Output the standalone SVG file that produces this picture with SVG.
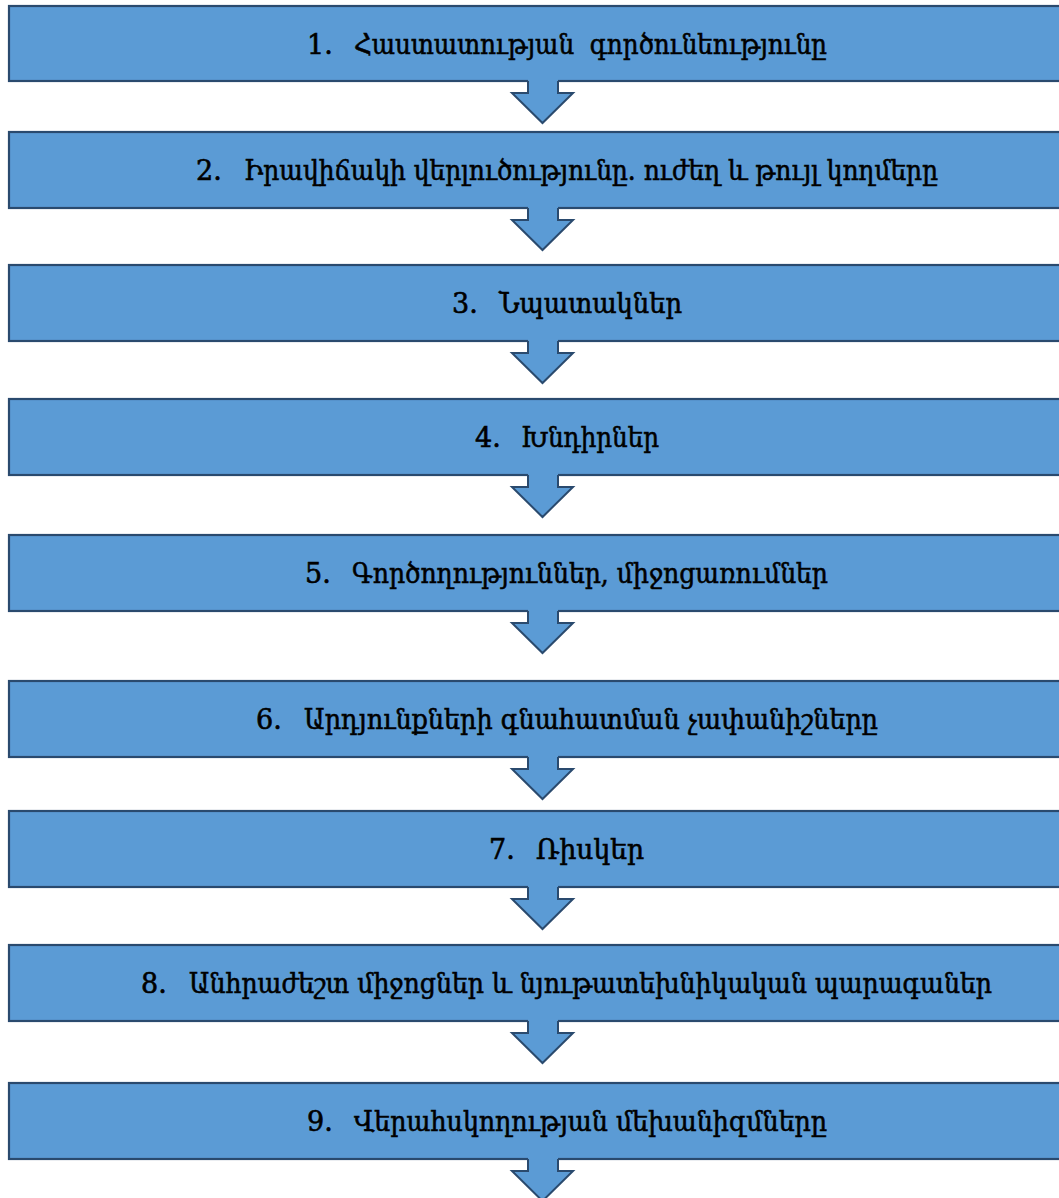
<svg xmlns="http://www.w3.org/2000/svg" width="1059" height="1198" viewBox="0 0 1059 1198">
<style>
.box{fill:#5B9BD5;stroke:#2A4A6E;stroke-width:2.2}
.arr{fill:#5B9BD5}
.arrl{fill:none;stroke:#2A4A6E;stroke-width:2;stroke-linejoin:miter}
.t{font-family:"DejaVu Serif","DejaVu Sans",serif;font-size:27px;fill:#000;stroke:#000;stroke-width:0.6}
</style>
<rect width="1059" height="1198" fill="#fff"/>
<g id="node1"><rect class="box" x="9" y="6" width="1060" height="75"/><text class="t" x="307" y="54">1.</text><text class="t" x="354" y="54" textLength="473" lengthAdjust="spacingAndGlyphs" xml:space="preserve">Հաստատության  գործունեությունը</text></g>
<g id="node2"><rect class="box" x="9" y="132" width="1060" height="76"/><text class="t" x="196" y="180">2.</text><text class="t" x="244" y="180" textLength="694" lengthAdjust="spacingAndGlyphs">Իրավիճակի վերլուծությունը. ուժեղ և թույլ կողմերը</text></g>
<g id="node3"><rect class="box" x="9" y="265" width="1060" height="76"/><text class="t" x="452" y="313">3.</text><text class="t" x="499" y="313" textLength="183" lengthAdjust="spacingAndGlyphs">Նպատակներ</text></g>
<g id="node4"><rect class="box" x="9" y="399" width="1060" height="76"/><text class="t" x="475" y="447">4.</text><text class="t" x="521" y="447" textLength="138" lengthAdjust="spacingAndGlyphs">Խնդիրներ</text></g>
<g id="node5"><rect class="box" x="9" y="535" width="1060" height="76"/><text class="t" x="305" y="583">5.</text><text class="t" x="352" y="583" textLength="476" lengthAdjust="spacingAndGlyphs">Գործողություններ, միջոցառումներ</text></g>
<g id="node6"><rect class="box" x="9" y="681" width="1060" height="76"/><text class="t" x="256" y="729">6.</text><text class="t" x="304" y="729" textLength="574" lengthAdjust="spacingAndGlyphs">Արդյունքների գնահատման չափանիշները</text></g>
<g id="node7"><rect class="box" x="9" y="811" width="1060" height="76"/><text class="t" x="489" y="859">7.</text><text class="t" x="536" y="859" textLength="108" lengthAdjust="spacingAndGlyphs">Ռիսկեր</text></g>
<g id="node8"><rect class="box" x="9" y="945" width="1060" height="76"/><text class="t" x="141" y="993">8.</text><text class="t" x="189" y="993" textLength="803" lengthAdjust="spacingAndGlyphs">Անհրաժեշտ միջոցներ և նյութատեխնիկական պարագաներ</text></g>
<g id="node9"><rect class="box" x="9" y="1083" width="1060" height="76"/><text class="t" x="307" y="1131">9.</text><text class="t" x="354" y="1131" textLength="473" lengthAdjust="spacingAndGlyphs">Վերահսկողության մեխանիզմները</text></g>
<g id="connectors">
<defs>
<g id="ar"><polygon class="arr" points="528,-2 558,-2 558,12 573,12 542.5,42 512,12 528,12"/><polyline class="arrl" points="528,0 528,12 512,12 542.5,42 573,12 558,12 558,0"/></g>
</defs>
<use href="#ar" y="81"/>
<use href="#ar" y="208"/>
<use href="#ar" y="341"/>
<use href="#ar" y="475"/>
<use href="#ar" y="611"/>
<use href="#ar" y="757"/>
<use href="#ar" y="887"/>
<use href="#ar" y="1021"/>
<use href="#ar" y="1159"/>
</g>
</svg>
